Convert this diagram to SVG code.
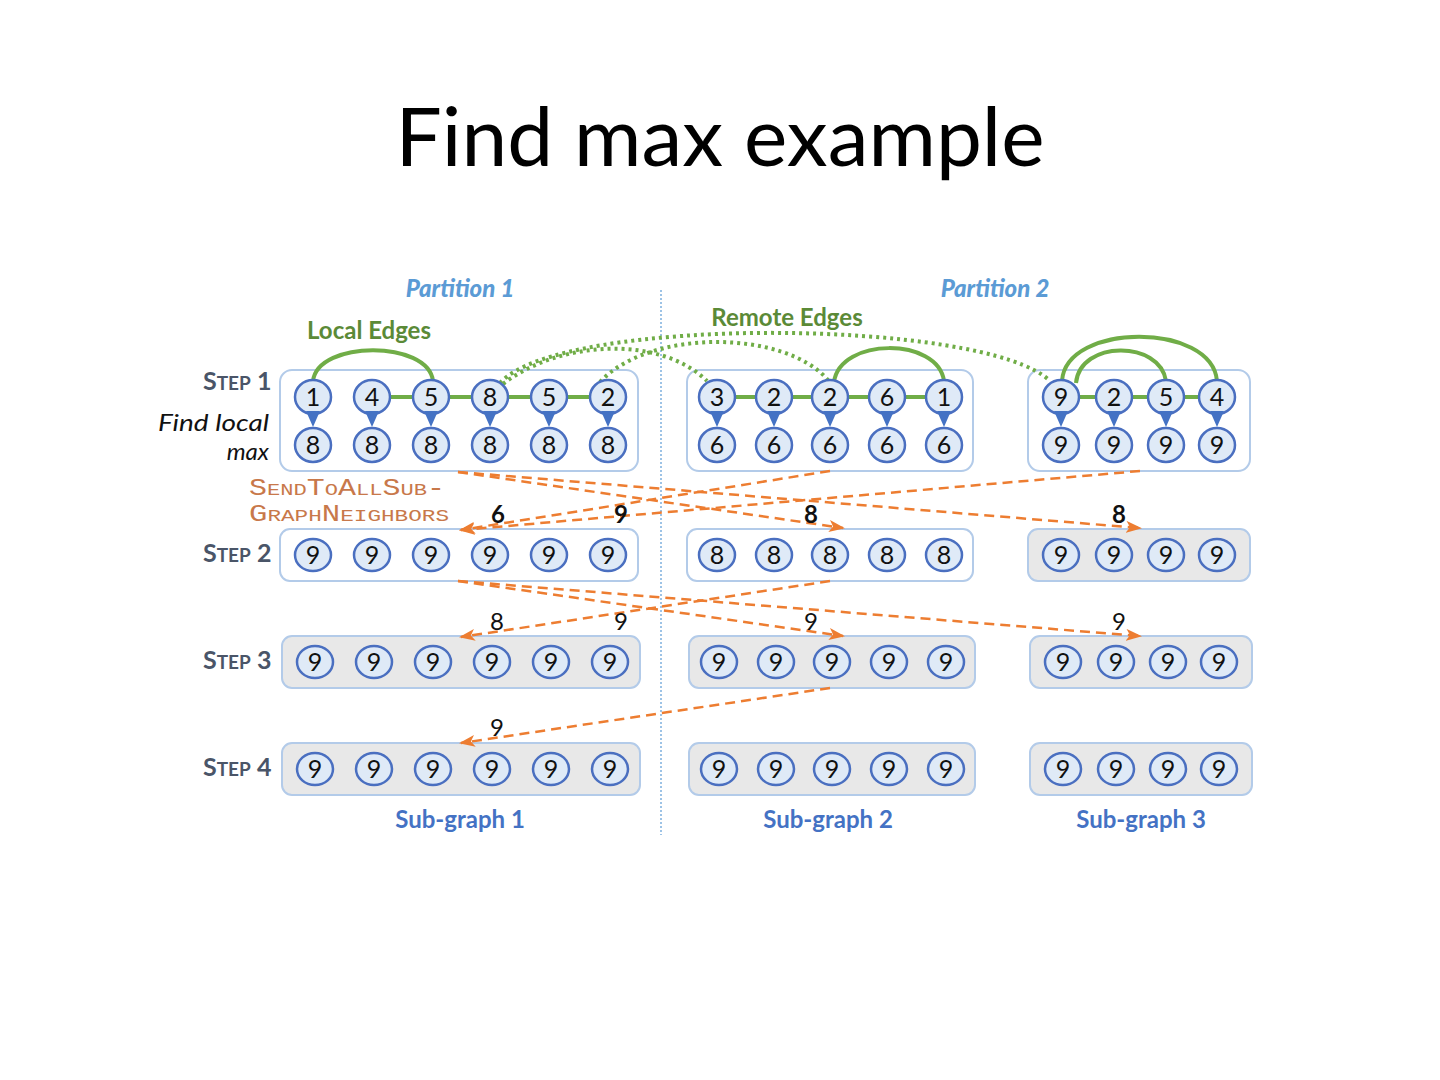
<svg xmlns="http://www.w3.org/2000/svg" width="1440" height="1080" viewBox="0 0 1440 1080">
<style>
.bg{fill:#ffffff}
.box{fill:#ffffff;stroke:#b3cbe9;stroke-width:2}
.gbox{fill:#e8e8e8;stroke:#b3cbe9;stroke-width:2}
.n{fill:#dfeaf7;stroke:#4a6fc0;stroke-width:2.5}
.pin{fill:#4472c4}
.t{font-family:Lato,"Open Sans","Liberation Sans",sans-serif;font-size:25px;text-anchor:middle;fill:#111}
.edge{stroke:#70ad47;stroke-width:4;fill:none}
.remote{stroke:#70ad47;stroke-width:4;stroke-dasharray:3 4;fill:none}
.msg{stroke:#ed7d31;stroke-width:2.5;stroke-dasharray:10 6;fill:none;marker-end:url(#ah)}
.lbl{font-family:Lato,"Open Sans","Liberation Sans",sans-serif;font-size:24px;text-anchor:middle;fill:#111}
.step{font-family:Lato,"Open Sans","Liberation Sans",sans-serif;font-weight:bold;fill:#4a5568}
.part{font-family:Lato,"Open Sans","Liberation Sans",sans-serif;font-weight:900;font-style:italic;font-size:24px;fill:#5b9bd5;text-anchor:middle}
.green{font-family:Lato,"Open Sans","Liberation Sans",sans-serif;font-weight:bold;font-size:24px;fill:#5b8a37;text-anchor:middle}
.sub{font-family:Lato,"Open Sans","Liberation Sans",sans-serif;font-weight:bold;font-size:24px;fill:#4472c4;text-anchor:middle}
.send{font-family:"Liberation Mono","DejaVu Sans Mono",monospace;fill:#c8784a}
.ital{font-family:Lato,"Open Sans","Liberation Sans",sans-serif;font-style:italic;font-size:24px;fill:#111}
</style>
<defs>
<marker id="ah" markerUnits="userSpaceOnUse" markerWidth="16" markerHeight="12" refX="14" refY="6" orient="auto">
<path d="M0,0 L16,6 L0,12 L4,6 z" fill="#ed7d31"/>
</marker>
</defs>
<rect class="bg" x="0" y="0" width="1440" height="1080"/>
<text x="720" y="166" font-family="Lato,'Open Sans','Liberation Sans',sans-serif" font-size="82" text-anchor="middle" fill="#000">Find max example</text>

<g id="labels">
<text class="part" x="460" y="297">Partition 1</text>
<text class="part" x="995" y="297">Partition 2</text>
<text class="green" x="369" y="339">Local Edges</text>
<text class="green" x="787" y="326">Remote Edges</text>
<text class="step" x="203" y="390"><tspan font-size="25">S</tspan><tspan font-size="19">TEP</tspan><tspan font-size="25"> 1</tspan></text>
<text class="step" x="203" y="562"><tspan font-size="25">S</tspan><tspan font-size="19">TEP</tspan><tspan font-size="25"> 2</tspan></text>
<text class="step" x="203" y="669"><tspan font-size="25">S</tspan><tspan font-size="19">TEP</tspan><tspan font-size="25"> 3</tspan></text>
<text class="step" x="203" y="776"><tspan font-size="25">S</tspan><tspan font-size="19">TEP</tspan><tspan font-size="25"> 4</tspan></text>
<text class="ital" x="158" y="431" textLength="111" lengthAdjust="spacingAndGlyphs">Find local</text>
<text class="ital" x="269" y="460" text-anchor="end">max</text>
<text class="send" x="249" y="495" textLength="196" lengthAdjust="spacingAndGlyphs"><tspan font-size="23">S</tspan><tspan font-size="17">END</tspan><tspan font-size="23">T</tspan><tspan font-size="17">O</tspan><tspan font-size="23">A</tspan><tspan font-size="17">LL</tspan><tspan font-size="23">S</tspan><tspan font-size="17">UB</tspan><tspan font-size="23">-</tspan></text>
<text class="send" x="249" y="521" textLength="200" lengthAdjust="spacingAndGlyphs"><tspan font-size="23">G</tspan><tspan font-size="17">RAPH</tspan><tspan font-size="23">N</tspan><tspan font-size="17">EIGHBORS</tspan></text>
<text class="sub" x="460" y="828">Sub-graph 1</text>
<text class="sub" x="828" y="828">Sub-graph 2</text>
<text class="sub" x="1141" y="828">Sub-graph 3</text>
</g>

<line x1="661" y1="290" x2="661" y2="835" stroke="#9dc3e6" stroke-width="2" stroke-dasharray="2 2"/>

<g id="boxes">
<rect id="s1g1" class="box" x="280" y="370" width="358" height="101" rx="12"/>
<rect id="s1g2" class="box" x="687" y="370" width="286" height="101" rx="12"/>
<rect id="s1g3" class="box" x="1028" y="370" width="222" height="101" rx="12"/>
<rect id="s2g1" class="box" x="280" y="529" width="358" height="52" rx="10"/>
<rect id="s2g2" class="box" x="687" y="529" width="286" height="52" rx="10"/>
<rect id="s2g3" class="gbox" x="1028" y="529" width="222" height="52" rx="10"/>
<rect id="s3g1" class="gbox" x="282" y="636" width="358" height="52" rx="10"/>
<rect id="s3g2" class="gbox" x="689" y="636" width="286" height="52" rx="10"/>
<rect id="s3g3" class="gbox" x="1030" y="636" width="222" height="52" rx="10"/>
<rect id="s4g1" class="gbox" x="282" y="743" width="358" height="52" rx="10"/>
<rect id="s4g2" class="gbox" x="689" y="743" width="286" height="52" rx="10"/>
<rect id="s4g3" class="gbox" x="1030" y="743" width="222" height="52" rx="10"/>
</g>

<g id="connectors">
<line class="edge" x1="372" y1="397" x2="608" y2="397"/>
<line class="edge" x1="717" y1="397" x2="944" y2="397"/>
<line class="edge" x1="1061" y1="397" x2="1217" y2="397"/>
<path class="edge" d="M313,381 C318,340 428,340 433,381"/>
<path class="edge" d="M834,382 C840,337 938,337 944,381"/>
<path class="edge" d="M1076,383 C1080,340 1160,340 1166,381"/>
<path class="edge" d="M1062,381 C1066,322 1212,322 1217,381"/>
<path class="remote" d="M500,383 C560,315 985,318 1050,381"/>
<path class="remote" d="M503,384 C560,340 660,335 707,381"/>
<path class="remote" d="M600,382 C650,328 785,330 828,380"/>

<path class="msg" d="M458,472 L843,528"/>
<path class="msg" d="M458,472 L1140,528"/>
<path class="msg" d="M830,471 L461,530"/>
<path class="msg" d="M1140,471 L461,530"/>
<path class="msg" d="M458,581 L843,636"/>
<path class="msg" d="M458,581 L1140,636"/>
<path class="msg" d="M830,581 L461,637"/>
<path class="msg" d="M830,688 L461,743"/>
</g>

<g id="msglabels" font-weight="bold">
<text class="lbl" x="498" y="523">6</text>
<text class="lbl" x="621" y="523">9</text>
<text class="lbl" x="811" y="523">8</text>
<text class="lbl" x="1119" y="523">8</text>
</g>
<g id="msglabels2">
<text class="lbl" x="497" y="630">8</text>
<text class="lbl" x="621" y="630">9</text>
<text class="lbl" x="811" y="630">9</text>
<text class="lbl" x="1119" y="630">9</text>
<text class="lbl" x="497" y="736">9</text>
</g>

<g id="step1-nodes">
<g id="s1a1"><ellipse class="n" cx="313" cy="397" rx="18" ry="17"/><polygon class="pin" points="306,411 320,411 313,427"/><text class="t" x="313" y="406">1</text></g>
<g id="s1a2"><ellipse class="n" cx="372" cy="397" rx="18" ry="17"/><polygon class="pin" points="365,411 379,411 372,427"/><text class="t" x="372" y="406">4</text></g>
<g id="s1a3"><ellipse class="n" cx="431" cy="397" rx="18" ry="17"/><polygon class="pin" points="424,411 438,411 431,427"/><text class="t" x="431" y="406">5</text></g>
<g id="s1a4"><ellipse class="n" cx="490" cy="397" rx="18" ry="17"/><polygon class="pin" points="483,411 497,411 490,427"/><text class="t" x="490" y="406">8</text></g>
<g id="s1a5"><ellipse class="n" cx="549" cy="397" rx="18" ry="17"/><polygon class="pin" points="542,411 556,411 549,427"/><text class="t" x="549" y="406">5</text></g>
<g id="s1a6"><ellipse class="n" cx="608" cy="397" rx="18" ry="17"/><polygon class="pin" points="601,411 615,411 608,427"/><text class="t" x="608" y="406">2</text></g>
<g id="s1b1"><ellipse class="n" cx="717" cy="397" rx="18" ry="17"/><polygon class="pin" points="710,411 724,411 717,427"/><text class="t" x="717" y="406">3</text></g>
<g id="s1b2"><ellipse class="n" cx="774" cy="397" rx="18" ry="17"/><polygon class="pin" points="767,411 781,411 774,427"/><text class="t" x="774" y="406">2</text></g>
<g id="s1b3"><ellipse class="n" cx="830" cy="397" rx="18" ry="17"/><polygon class="pin" points="823,411 837,411 830,427"/><text class="t" x="830" y="406">2</text></g>
<g id="s1b4"><ellipse class="n" cx="887" cy="397" rx="18" ry="17"/><polygon class="pin" points="880,411 894,411 887,427"/><text class="t" x="887" y="406">6</text></g>
<g id="s1b5"><ellipse class="n" cx="944" cy="397" rx="18" ry="17"/><polygon class="pin" points="937,411 951,411 944,427"/><text class="t" x="944" y="406">1</text></g>
<g id="s1c1"><ellipse class="n" cx="1061" cy="397" rx="18" ry="17"/><polygon class="pin" points="1054,411 1068,411 1061,427"/><text class="t" x="1061" y="406">9</text></g>
<g id="s1c2"><ellipse class="n" cx="1114" cy="397" rx="18" ry="17"/><polygon class="pin" points="1107,411 1121,411 1114,427"/><text class="t" x="1114" y="406">2</text></g>
<g id="s1c3"><ellipse class="n" cx="1166" cy="397" rx="18" ry="17"/><polygon class="pin" points="1159,411 1173,411 1166,427"/><text class="t" x="1166" y="406">5</text></g>
<g id="s1c4"><ellipse class="n" cx="1217" cy="397" rx="18" ry="17"/><polygon class="pin" points="1210,411 1224,411 1217,427"/><text class="t" x="1217" y="406">4</text></g>

<g id="m1a1"><ellipse class="n" cx="313" cy="445" rx="18" ry="17"/><text class="t" x="313" y="454">8</text></g>
<g id="m1a2"><ellipse class="n" cx="372" cy="445" rx="18" ry="17"/><text class="t" x="372" y="454">8</text></g>
<g id="m1a3"><ellipse class="n" cx="431" cy="445" rx="18" ry="17"/><text class="t" x="431" y="454">8</text></g>
<g id="m1a4"><ellipse class="n" cx="490" cy="445" rx="18" ry="17"/><text class="t" x="490" y="454">8</text></g>
<g id="m1a5"><ellipse class="n" cx="549" cy="445" rx="18" ry="17"/><text class="t" x="549" y="454">8</text></g>
<g id="m1a6"><ellipse class="n" cx="608" cy="445" rx="18" ry="17"/><text class="t" x="608" y="454">8</text></g>
<g id="m1b1"><ellipse class="n" cx="717" cy="445" rx="18" ry="17"/><text class="t" x="717" y="454">6</text></g>
<g id="m1b2"><ellipse class="n" cx="774" cy="445" rx="18" ry="17"/><text class="t" x="774" y="454">6</text></g>
<g id="m1b3"><ellipse class="n" cx="830" cy="445" rx="18" ry="17"/><text class="t" x="830" y="454">6</text></g>
<g id="m1b4"><ellipse class="n" cx="887" cy="445" rx="18" ry="17"/><text class="t" x="887" y="454">6</text></g>
<g id="m1b5"><ellipse class="n" cx="944" cy="445" rx="18" ry="17"/><text class="t" x="944" y="454">6</text></g>
<g id="m1c1"><ellipse class="n" cx="1061" cy="445" rx="18" ry="17"/><text class="t" x="1061" y="454">9</text></g>
<g id="m1c2"><ellipse class="n" cx="1114" cy="445" rx="18" ry="17"/><text class="t" x="1114" y="454">9</text></g>
<g id="m1c3"><ellipse class="n" cx="1166" cy="445" rx="18" ry="17"/><text class="t" x="1166" y="454">9</text></g>
<g id="m1c4"><ellipse class="n" cx="1217" cy="445" rx="18" ry="17"/><text class="t" x="1217" y="454">9</text></g>
</g>

<g id="step2-nodes">
<g id="s2a1"><ellipse class="n" cx="313" cy="555" rx="18" ry="16"/><text class="t" x="313" y="564">9</text></g>
<g id="s2a2"><ellipse class="n" cx="372" cy="555" rx="18" ry="16"/><text class="t" x="372" y="564">9</text></g>
<g id="s2a3"><ellipse class="n" cx="431" cy="555" rx="18" ry="16"/><text class="t" x="431" y="564">9</text></g>
<g id="s2a4"><ellipse class="n" cx="490" cy="555" rx="18" ry="16"/><text class="t" x="490" y="564">9</text></g>
<g id="s2a5"><ellipse class="n" cx="549" cy="555" rx="18" ry="16"/><text class="t" x="549" y="564">9</text></g>
<g id="s2a6"><ellipse class="n" cx="608" cy="555" rx="18" ry="16"/><text class="t" x="608" y="564">9</text></g>
<g id="s2b1"><ellipse class="n" cx="717" cy="555" rx="18" ry="16"/><text class="t" x="717" y="564">8</text></g>
<g id="s2b2"><ellipse class="n" cx="774" cy="555" rx="18" ry="16"/><text class="t" x="774" y="564">8</text></g>
<g id="s2b3"><ellipse class="n" cx="830" cy="555" rx="18" ry="16"/><text class="t" x="830" y="564">8</text></g>
<g id="s2b4"><ellipse class="n" cx="887" cy="555" rx="18" ry="16"/><text class="t" x="887" y="564">8</text></g>
<g id="s2b5"><ellipse class="n" cx="944" cy="555" rx="18" ry="16"/><text class="t" x="944" y="564">8</text></g>
<g id="s2c1"><ellipse class="n" cx="1061" cy="555" rx="18" ry="16"/><text class="t" x="1061" y="564">9</text></g>
<g id="s2c2"><ellipse class="n" cx="1114" cy="555" rx="18" ry="16"/><text class="t" x="1114" y="564">9</text></g>
<g id="s2c3"><ellipse class="n" cx="1166" cy="555" rx="18" ry="16"/><text class="t" x="1166" y="564">9</text></g>
<g id="s2c4"><ellipse class="n" cx="1217" cy="555" rx="18" ry="16"/><text class="t" x="1217" y="564">9</text></g>
</g>

<g id="step3-nodes">
<g id="s3a1"><ellipse class="n" cx="315" cy="662" rx="18" ry="16"/><text class="t" x="315" y="671">9</text></g>
<g id="s3a2"><ellipse class="n" cx="374" cy="662" rx="18" ry="16"/><text class="t" x="374" y="671">9</text></g>
<g id="s3a3"><ellipse class="n" cx="433" cy="662" rx="18" ry="16"/><text class="t" x="433" y="671">9</text></g>
<g id="s3a4"><ellipse class="n" cx="492" cy="662" rx="18" ry="16"/><text class="t" x="492" y="671">9</text></g>
<g id="s3a5"><ellipse class="n" cx="551" cy="662" rx="18" ry="16"/><text class="t" x="551" y="671">9</text></g>
<g id="s3a6"><ellipse class="n" cx="610" cy="662" rx="18" ry="16"/><text class="t" x="610" y="671">9</text></g>
<g id="s3b1"><ellipse class="n" cx="719" cy="662" rx="18" ry="16"/><text class="t" x="719" y="671">9</text></g>
<g id="s3b2"><ellipse class="n" cx="776" cy="662" rx="18" ry="16"/><text class="t" x="776" y="671">9</text></g>
<g id="s3b3"><ellipse class="n" cx="832" cy="662" rx="18" ry="16"/><text class="t" x="832" y="671">9</text></g>
<g id="s3b4"><ellipse class="n" cx="889" cy="662" rx="18" ry="16"/><text class="t" x="889" y="671">9</text></g>
<g id="s3b5"><ellipse class="n" cx="946" cy="662" rx="18" ry="16"/><text class="t" x="946" y="671">9</text></g>
<g id="s3c1"><ellipse class="n" cx="1063" cy="662" rx="18" ry="16"/><text class="t" x="1063" y="671">9</text></g>
<g id="s3c2"><ellipse class="n" cx="1116" cy="662" rx="18" ry="16"/><text class="t" x="1116" y="671">9</text></g>
<g id="s3c3"><ellipse class="n" cx="1168" cy="662" rx="18" ry="16"/><text class="t" x="1168" y="671">9</text></g>
<g id="s3c4"><ellipse class="n" cx="1219" cy="662" rx="18" ry="16"/><text class="t" x="1219" y="671">9</text></g>
</g>

<g id="step4-nodes">
<g id="s4a1"><ellipse class="n" cx="315" cy="769" rx="18" ry="16"/><text class="t" x="315" y="778">9</text></g>
<g id="s4a2"><ellipse class="n" cx="374" cy="769" rx="18" ry="16"/><text class="t" x="374" y="778">9</text></g>
<g id="s4a3"><ellipse class="n" cx="433" cy="769" rx="18" ry="16"/><text class="t" x="433" y="778">9</text></g>
<g id="s4a4"><ellipse class="n" cx="492" cy="769" rx="18" ry="16"/><text class="t" x="492" y="778">9</text></g>
<g id="s4a5"><ellipse class="n" cx="551" cy="769" rx="18" ry="16"/><text class="t" x="551" y="778">9</text></g>
<g id="s4a6"><ellipse class="n" cx="610" cy="769" rx="18" ry="16"/><text class="t" x="610" y="778">9</text></g>
<g id="s4b1"><ellipse class="n" cx="719" cy="769" rx="18" ry="16"/><text class="t" x="719" y="778">9</text></g>
<g id="s4b2"><ellipse class="n" cx="776" cy="769" rx="18" ry="16"/><text class="t" x="776" y="778">9</text></g>
<g id="s4b3"><ellipse class="n" cx="832" cy="769" rx="18" ry="16"/><text class="t" x="832" y="778">9</text></g>
<g id="s4b4"><ellipse class="n" cx="889" cy="769" rx="18" ry="16"/><text class="t" x="889" y="778">9</text></g>
<g id="s4b5"><ellipse class="n" cx="946" cy="769" rx="18" ry="16"/><text class="t" x="946" y="778">9</text></g>
<g id="s4c1"><ellipse class="n" cx="1063" cy="769" rx="18" ry="16"/><text class="t" x="1063" y="778">9</text></g>
<g id="s4c2"><ellipse class="n" cx="1116" cy="769" rx="18" ry="16"/><text class="t" x="1116" y="778">9</text></g>
<g id="s4c3"><ellipse class="n" cx="1168" cy="769" rx="18" ry="16"/><text class="t" x="1168" y="778">9</text></g>
<g id="s4c4"><ellipse class="n" cx="1219" cy="769" rx="18" ry="16"/><text class="t" x="1219" y="778">9</text></g>
</g>
</svg>
